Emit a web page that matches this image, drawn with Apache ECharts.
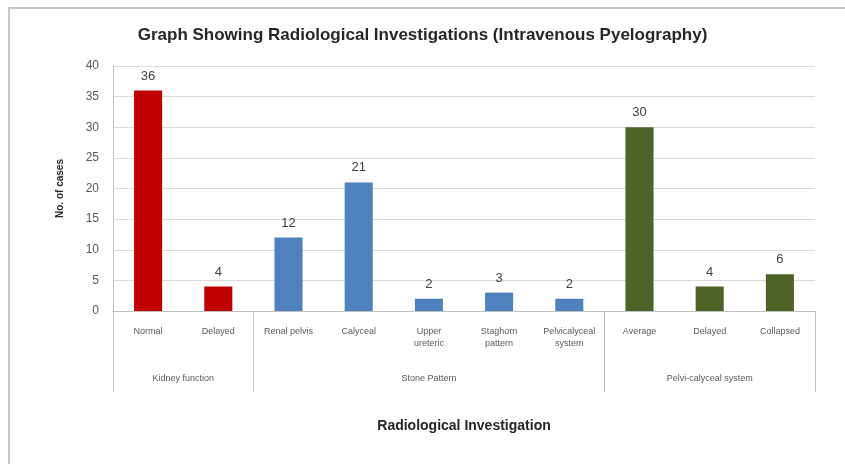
<!DOCTYPE html>
<html>
<head>
<meta charset="utf-8">
<title>Radiological Investigations</title>
<script src="https://cdn.jsdelivr.net/npm/echarts@6/dist/echarts.min.js"></script>
<style>
  html, body { margin: 0; padding: 0; background: #fff; }
  #frame { position: absolute; left: 8px; top: 7px; width: 845px; height: 470px;
           border-left: 2px solid #c6c6c6; border-top: 2px solid #c6c6c6; }
  #container { position: absolute; left: 0; top: 0; width: 845px; height: 464px; }
</style>
</head>
<body>
<div id="frame"></div>
<div id="container"></div>
<script>
var categories = ['Normal', 'Delayed', 'Renal pelvis', 'Calyceal', 'Upper\nureteric',
                  'Staghorn\npattern', 'Pelvicalyceal\nsystem', 'Average', 'Delayed', 'Collapsed'];
var values = [36, 4, 12, 21, 2, 3, 2, 30, 4, 6];
var groupOf = [0, 0, 1, 1, 1, 1, 1, 2, 2, 2];
var groupNames = ['Kidney function', 'Stone Pattern', 'Pelvi-calyceal system'];
var groupEdges = [0, 2, 7, 10];
var groupCenters = [1, 4.5, 8.5];
var groupColors = ['#C00000', '#4F81BD', '#4F6228'];

var font = '"Liberation Sans", Arial, sans-serif';
var chart = echarts.init(document.getElementById('container'));

chart.setOption({
  animation: false,
  textStyle: { fontFamily: font },
  title: {
    text: 'Graph Showing Radiological Investigations (Intravenous Pyelography)',
    left: 'center', top: 22,
    textStyle: { fontSize: 17, fontWeight: 'bold', color: '#262626', fontFamily: font }
  },
  grid: { left: 113, right: 30, top: 66, bottom: 153, containLabel: false },
  xAxis: [{
    type: 'category',
    data: categories,
    axisLine: { lineStyle: { color: '#bfbfbf' } },
    axisTick: { show: false },
    axisLabel: { interval: 0, margin: 15, fontSize: 9, color: '#595959', lineHeight: 12 }
  }, {
    type: 'value',
    min: 0, max: 10,
    position: 'bottom',
    axisLine: { show: false },
    splitLine: { show: false },
    axisTick: { show: true, customValues: groupEdges, length: 81, lineStyle: { color: '#bfbfbf' } },
    axisLabel: {
      customValues: groupCenters, margin: 63, fontSize: 9, color: '#595959',
      formatter: function (v) { return groupNames[groupCenters.indexOf(v)]; }
    },
    name: 'Radiological Investigation',
    nameLocation: 'middle',
    nameGap: 108,
    nameTextStyle: { fontSize: 14, fontWeight: 'bold', color: '#262626' }
  }],
  yAxis: {
    type: 'value',
    min: 0, max: 40, interval: 5,
    axisLine: { show: true, lineStyle: { color: '#bfbfbf' } },
    axisTick: { show: false },
    axisLabel: { fontSize: 12, color: '#595959', margin: 14 },
    splitLine: { lineStyle: { color: '#d9d9d9' } },
    name: 'No. of cases',
    nameLocation: 'middle',
    nameGap: 48,
    nameTextStyle: { fontSize: 10, fontWeight: 'bold', color: '#262626' }
  },
  series: [{
    type: 'bar',
    xAxisIndex: 0,
    barWidth: '40%',
    data: values.map(function (v, i) {
      return { value: v, itemStyle: { color: groupColors[groupOf[i]] } };
    }),
    label: { show: true, position: 'top', fontSize: 13, color: '#404040', distance: 8 }
  }]
});
</script>
</body>
</html>
